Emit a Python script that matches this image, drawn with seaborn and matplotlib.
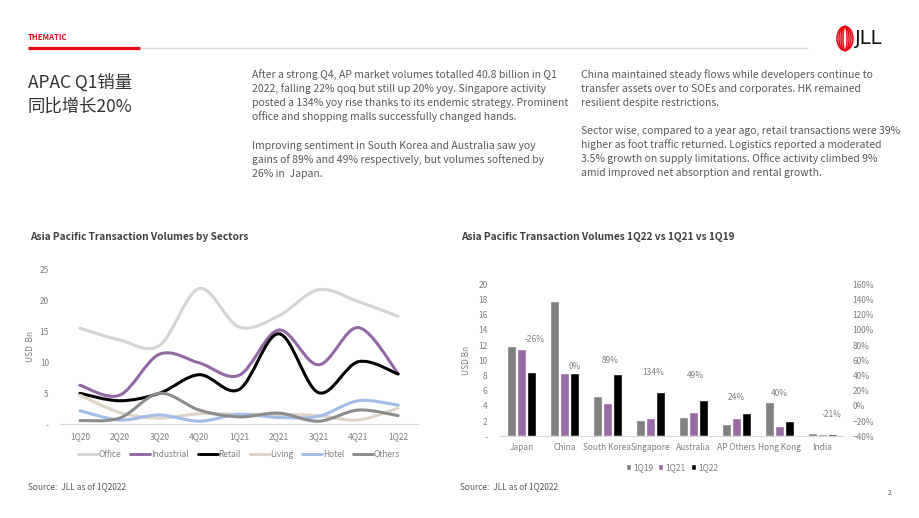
import numpy as np
import pandas as pd
import matplotlib
matplotlib.use("Agg")
import matplotlib.pyplot as plt
from matplotlib.path import Path
from matplotlib.patches import PathPatch, Ellipse
from matplotlib.lines import Line2D
from matplotlib.ticker import PercentFormatter
import seaborn as sns

# ---- data: line chart (USD Bn) ----
quarters = ["1Q20", "2Q20", "3Q20", "4Q20", "1Q21", "2Q21", "3Q21", "4Q21", "1Q22"]
office = [15.5, 13.6, 12.7, 21.9, 15.7, 17.5, 21.7, 19.8, 17.4]
industrial = [6.3, 4.7, 11.3, 9.9, 7.9, 15.2, 9.6, 15.6, 8.2]
retail = [5.0, 3.8, 5.0, 8.0, 5.6, 14.6, 5.1, 10.1, 8.1]
living = [4.7, 1.9, 1.0, 1.7, 1.6, 1.6, 1.4, 0.7, 2.6]
hotel = [2.2, 0.7, 1.5, 0.5, 1.6, 1.1, 1.3, 3.8, 3.1]
others = [0.6, 1.0, 5.0, 2.3, 1.2, 1.8, 0.5, 2.3, 1.4]

sectors = ["Office", "Industrial", "Retail", "Living", "Hotel", "Others"]
sector_values = [office, industrial, retail, living, hotel, others]
sector_colors = ["#d4d4d4", "#9368a6", "#000000", "#ddd6c6", "#a3bde9", "#8c8c8c"]

# ---- data: bar chart (USD Bn) ----
markets = ["Japan", "China", "South Korea", "Singapore", "Australia", "AP Others", "Hong Kong", "India"]
q1_19 = [11.9, 17.8, 5.3, 2.1, 2.6, 1.6, 4.5, 0.4]
q1_21 = [11.5, 8.3, 4.4, 2.4, 3.2, 2.4, 1.4, 0.3]
q1_22 = [8.5, 8.3, 8.2, 5.8, 4.8, 3.1, 2.0, 0.25]
yoy = ["-26%", "0%", "89%", "134%", "49%", "24%", "40%", "-21%"]
periods = ["1Q19", "1Q21", "1Q22"]
bar_colors = ["#808080", "#9a6aa6", "#000000"]

# where the yoy labels sit (annotation layout, left-axis units)
label_y = [12.7, 9.2, 10.0, 8.4, 8.0, 5.1, 5.6, 2.9]
label_dx = [0.3, 0.25, 0.05, 0.05, 0.05, 0.0, 0.0, 0.22]

sns.set_theme(style="white")
plt.rcParams["font.family"] = ["Liberation Sans Narrow", "Noto Sans CJK SC", "DejaVu Sans"]

grey_txt = "#595959"
tick_txt = "#7f7f7f"

fig = plt.figure(figsize=(9.2, 5.18), dpi=100)

# page overlay in pixel coords
bg = fig.add_axes([0, 0, 1, 1])
bg.set_xlim(0, 920)
bg.set_ylim(518, 0)
bg.axis("off")

bg.text(28, 38, "THEMATIC", color="#e30613", fontsize=5.5, fontweight="bold", va="center")
bg.plot([28, 140], [48, 48], color="#e30613", lw=2.3, solid_capstyle="butt")
bg.plot([140, 808], [48, 48], color="#d9d9d9", lw=1.0, solid_capstyle="butt")
# JLL logo
for w in [16, 12, 8, 4]:
    bg.add_patch(Ellipse((845, 38.5), w, 24, fill=False, ec="#e30613", lw=1.1))
bg.text(855, 39, "JLL", fontsize=14, color="#111111", va="center",
        family=["Liberation Sans Narrow", "DejaVu Sans"])

bg.text(28, 83, "APAC Q1销量", fontsize=12.5, color="#333333", va="center",
        family=["Noto Sans CJK SC", "DejaVu Sans"], fontweight="light")
bg.text(28, 107, "同比增长20%", fontsize=12.5, color="#333333", va="center",
        family=["Noto Sans CJK SC", "DejaVu Sans"], fontweight="light")

para1 = ["After a strong Q4, AP market volumes totalled 40.8 billion in Q1",
         "2022, falling 22% qoq but still up 20% yoy. Singapore activity",
         "posted a 134% yoy rise thanks to its endemic strategy. Prominent",
         "office and shopping malls successfully changed hands."]
para2 = ["Improving sentiment in South Korea and Australia saw yoy",
         "gains of 89% and 49% respectively, but volumes softened by",
         "26% in  Japan."]
para3 = ["China maintained steady flows while developers continue to",
         "transfer assets over to SOEs and corporates. HK remained",
         "resilient despite restrictions."]
para4 = ["Sector wise, compared to a year ago, retail transactions were 39%",
         "higher as foot traffic returned. Logistics reported a moderated",
         "3.5% growth on supply limitations. Office activity climbed 9%",
         "amid improved net absorption and rental growth."]
for x0, y0, lines in [(252, 75, para1), (252, 146, para2), (581, 75, para3), (581, 131, para4)]:
    for k, line in enumerate(lines):
        bg.text(x0, y0 + 14 * k, line, fontsize=7.5, color=grey_txt, va="center")

bg.text(30, 237, "Asia Pacific Transaction Volumes by Sectors", fontsize=7.3,
        fontweight="bold", color="#404040", va="center")
bg.text(461, 237, "Asia Pacific Transaction Volumes 1Q22 vs 1Q21 vs 1Q19", fontsize=7.3,
        fontweight="bold", color="#404040", va="center")
bg.text(28, 487, "Source:  JLL as of 1Q2022", fontsize=6, color=grey_txt, va="center")
bg.text(460, 487, "Source:  JLL as of 1Q2022", fontsize=6, color=grey_txt, va="center")
bg.text(888, 493, "2", fontsize=5, color=grey_txt, va="center")


def smooth_path(xs, ys):
    # Excel-like smoothed line: Catmull-Rom segments as cubic Beziers
    pts = np.column_stack([xs, ys]).astype(float)
    ext = np.vstack([pts[0], pts, pts[-1]])
    verts = [pts[0]]
    codes = [Path.MOVETO]
    for i in range(1, len(ext) - 2):
        p0, p1, p2, p3 = ext[i - 1], ext[i], ext[i + 1], ext[i + 2]
        verts += [p1 + (p2 - p0) / 6, p2 - (p3 - p1) / 6, p2]
        codes += [Path.CURVE4] * 3
    return Path(verts, codes)


# ---- line chart ----
ax1 = fig.add_axes([60 / 920, 1 - 424.3 / 518, 358 / 920, 155 / 518])
xs = np.arange(len(quarters))
handles = []
for name, vals, col in zip(sectors, sector_values, sector_colors):
    ax1.add_patch(PathPatch(smooth_path(xs, vals), fill=False, ec=col, lw=2.2,
                            capstyle="round", joinstyle="round"))
    handles.append(Line2D([], [], color=col, lw=2.1))
ax1.set_xlim(-0.5, len(quarters) - 0.5)
ax1.set_ylim(0, 25)
ax1.set_xticks(xs)
ax1.set_xticklabels(quarters)
ax1.set_yticks([0, 5, 10, 15, 20, 25])
ax1.set_yticklabels(["-", "5", "10", "15", "20", "25"])
ax1.tick_params(axis="both", length=0, labelsize=6, labelcolor=tick_txt)
ax1.tick_params(axis="x", pad=6)
ax1.tick_params(axis="y", pad=8)
for s in ["top", "right", "left"]:
    ax1.spines[s].set_visible(False)
ax1.spines["bottom"].set_color("#d9d9d9")
ax1.spines["bottom"].set_linewidth(0.8)
ax1.set_ylabel("USD  Bn", fontsize=6, color=tick_txt, labelpad=3)
ax1.legend(handles, sectors, loc="upper center", bbox_to_anchor=(0.5, -0.115), ncol=6,
           frameon=False, fontsize=6, labelcolor=tick_txt, handlelength=2.4,
           handletextpad=0.05, columnspacing=1.1)

# ---- bar chart ----
df = pd.DataFrame({
    "Market": markets * 3,
    "Period": [p for p in periods for _ in markets],
    "Volume": q1_19 + q1_21 + q1_22,
})
ax2 = fig.add_axes([500 / 920, 1 - 436.3 / 518, 344 / 920, 152 / 518])
sns.barplot(data=df, x="Market", y="Volume", hue="Period", palette=bar_colors,
            width=0.72, gap=0.16, ax=ax2, saturation=1)
ax2.set_ylim(0, 20)
ax2.set_xlim(-0.5, len(markets) - 0.5)
ax2.set_yticks(range(0, 21, 2))
ax2.set_yticklabels(["-"] + [str(v) for v in range(2, 21, 2)])
ax2.set_xlabel("")
ax2.set_ylabel("USD Bn", fontsize=6, color=tick_txt, labelpad=5)
ax2.tick_params(axis="both", length=0, labelsize=6, labelcolor=tick_txt)
ax2.tick_params(axis="y", pad=9)
ax2.tick_params(axis="x", pad=5)
for s in ["top", "right", "left"]:
    ax2.spines[s].set_visible(False)
ax2.spines["bottom"].set_color("#d9d9d9")
ax2.spines["bottom"].set_linewidth(0.8)
for i, lab in enumerate(yoy):
    ax2.text(i + label_dx[i], label_y[i], lab, ha="center", va="center",
             fontsize=6, color=tick_txt)
leg = ax2.legend(loc="upper center", bbox_to_anchor=(0.5, -0.125), ncol=3, frameon=False,
                 fontsize=6, labelcolor=tick_txt, handlelength=0.6, handleheight=0.6,
                 handletextpad=0.3, columnspacing=0.6)

ax3 = ax2.twinx()
ax3.set_ylim(-0.4, 1.6)
ax3.set_yticks(np.arange(-0.4, 1.61, 0.2))
ax3.yaxis.set_major_formatter(PercentFormatter(1.0, decimals=0))
ax3.tick_params(axis="y", length=0, labelsize=6, labelcolor=tick_txt, pad=6)
for s in ax3.spines.values():
    s.set_visible(False)
ax3.grid(False)

fig.savefig("out.png", dpi=100)
